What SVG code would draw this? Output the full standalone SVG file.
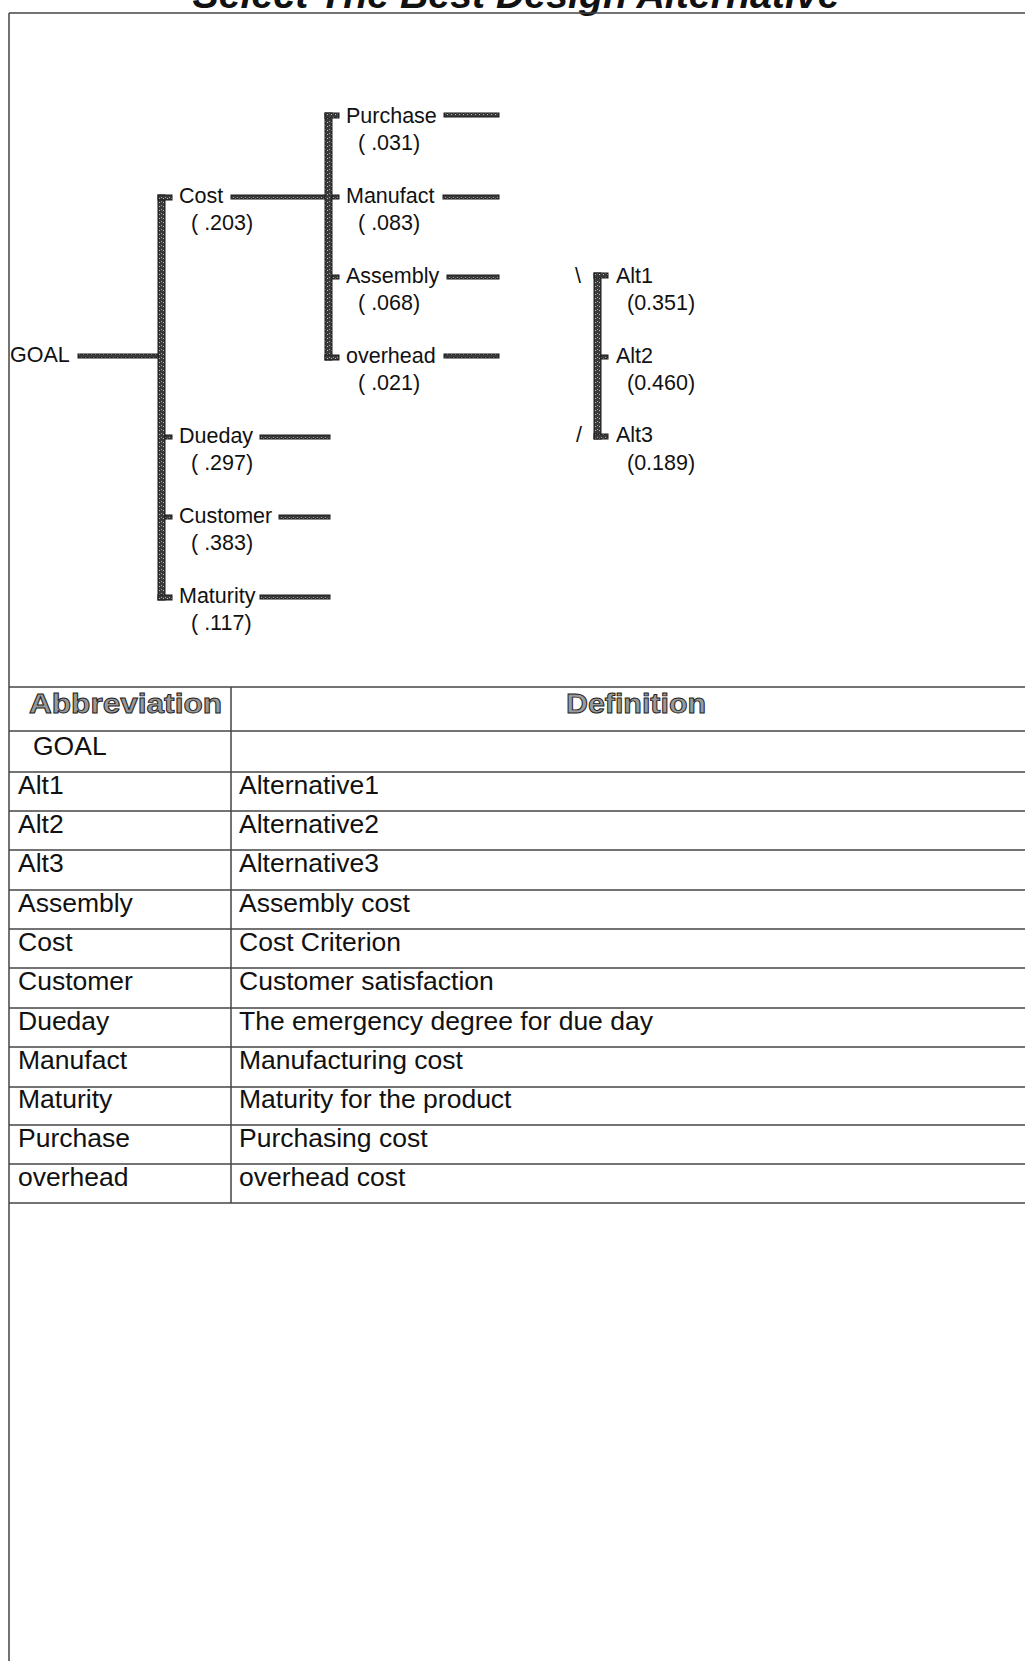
<svg xmlns="http://www.w3.org/2000/svg" width="1025" height="1661" viewBox="0 0 1025 1661">
<style>
text{font-family:"Liberation Sans",Arial,sans-serif;fill:#111}
.t{font-size:21.5px}
.c{font-size:26.5px}
.h{font-size:27px;font-weight:bold;fill:#9a9a9a;stroke:#222;stroke-width:0.9px}
.bar{fill:url(#tex);stroke:#1a1a1a;stroke-width:1}
.grid{stroke:#444;stroke-width:1.5;fill:none}
</style>
<defs>
<pattern id="tex" width="4" height="4" patternUnits="userSpaceOnUse">
<rect width="4" height="4" fill="#3a3a3a"/>
<rect x="1" y="1" width="1" height="1" fill="#a0a0a0"/>
<rect x="3" y="2" width="1" height="1" fill="#bdbdbd"/>
</pattern>
</defs>
<rect width="1025" height="1661" fill="#fff"/>
<text x="516" y="8" text-anchor="middle" font-size="39" font-weight="bold" font-style="italic" textLength="647" lengthAdjust="spacingAndGlyphs">Select The Best Design Alternative</text>
<g id="frame" class="grid">
<line x1="9" y1="13" x2="1025" y2="13"/>
<line x1="9" y1="13" x2="9" y2="1661"/>
</g>
<g id="connectors">
<rect class="bar" x="78" y="354" width="82" height="4"/>
<rect class="bar" x="158" y="195" width="7" height="405"/>
<rect class="bar" x="158" y="195" width="14" height="5"/>
<rect class="bar" x="165" y="435" width="7" height="4"/>
<rect class="bar" x="165" y="515" width="7" height="4"/>
<rect class="bar" x="158" y="595" width="14" height="5"/>
<rect class="bar" x="231" y="195" width="96" height="4"/>
<rect class="bar" x="325" y="113" width="7" height="247"/>
<rect class="bar" x="325" y="113" width="14" height="5"/>
<rect class="bar" x="332" y="195" width="7" height="4"/>
<rect class="bar" x="332" y="275" width="7" height="4"/>
<rect class="bar" x="325" y="355" width="14" height="5"/>
<rect class="bar" x="444" y="113" width="55" height="4"/>
<rect class="bar" x="443" y="195" width="56" height="4"/>
<rect class="bar" x="447" y="275" width="52" height="4"/>
<rect class="bar" x="444" y="354" width="55" height="4"/>
<rect class="bar" x="260" y="435" width="70" height="4"/>
<rect class="bar" x="279" y="515" width="51" height="4"/>
<rect class="bar" x="260" y="595" width="70" height="4"/>
<rect class="bar" x="594" y="273" width="7" height="166"/>
<rect class="bar" x="594" y="273" width="14" height="5"/>
<rect class="bar" x="601" y="355" width="7" height="4"/>
<rect class="bar" x="594" y="434" width="14" height="5"/>
</g>
<g id="n-goal"><text class="t" x="10" y="362">GOAL</text></g>
<g id="n-cost"><text class="t" x="179" y="203">Cost</text><text class="t" x="191" y="230">( .203)</text></g>
<g id="n-dueday"><text class="t" x="179" y="443">Dueday</text><text class="t" x="191" y="470">( .297)</text></g>
<g id="n-customer"><text class="t" x="179" y="523">Customer</text><text class="t" x="191" y="550">( .383)</text></g>
<g id="n-maturity"><text class="t" x="179" y="603">Maturity</text><text class="t" x="191" y="630">( .117)</text></g>
<g id="n-purchase"><text class="t" x="346" y="123">Purchase</text><text class="t" x="358" y="150">( .031)</text></g>
<g id="n-manufact"><text class="t" x="346" y="203">Manufact</text><text class="t" x="358" y="230">( .083)</text></g>
<g id="n-assembly"><text class="t" x="346" y="283">Assembly</text><text class="t" x="358" y="310">( .068)</text></g>
<g id="n-overhead"><text class="t" x="346" y="363">overhead</text><text class="t" x="358" y="390">( .021)</text></g>
<g id="alts">
<text class="t" x="575" y="283">\</text>
<text class="t" x="576" y="442">/</text>
</g>
<g id="n-alt1"><text class="t" x="616" y="283">Alt1</text><text class="t" x="627" y="310">(0.351)</text></g>
<g id="n-alt2"><text class="t" x="616" y="363">Alt2</text><text class="t" x="627" y="390">(0.460)</text></g>
<g id="n-alt3"><text class="t" x="616" y="442">Alt3</text><text class="t" x="627" y="470">(0.189)</text></g>
<g id="table">
<g class="grid">
<line x1="9" y1="687" x2="1025" y2="687"/>
<line x1="9" y1="731" x2="1025" y2="731"/>
<line x1="9" y1="772" x2="1025" y2="772"/>
<line x1="9" y1="811" x2="1025" y2="811"/>
<line x1="9" y1="850" x2="1025" y2="850"/>
<line x1="9" y1="890" x2="1025" y2="890"/>
<line x1="9" y1="929" x2="1025" y2="929"/>
<line x1="9" y1="968" x2="1025" y2="968"/>
<line x1="9" y1="1008" x2="1025" y2="1008"/>
<line x1="9" y1="1047" x2="1025" y2="1047"/>
<line x1="9" y1="1087" x2="1025" y2="1087"/>
<line x1="9" y1="1125" x2="1025" y2="1125"/>
<line x1="9" y1="1164" x2="1025" y2="1164"/>
<line x1="9" y1="1203" x2="1025" y2="1203"/>
<line x1="231" y1="687" x2="231" y2="1203"/>
</g>
<text class="h" x="29" y="713" textLength="193" lengthAdjust="spacingAndGlyphs">Abbreviation</text>
<text class="h" x="636" y="713" text-anchor="middle" textLength="140" lengthAdjust="spacingAndGlyphs">Definition</text>
<text class="c" x="33" y="755">GOAL</text>
<text class="c" x="18" y="794">Alt1</text><text class="c" x="239" y="794">Alternative1</text>
<text class="c" x="18" y="833">Alt2</text><text class="c" x="239" y="833">Alternative2</text>
<text class="c" x="18" y="872">Alt3</text><text class="c" x="239" y="872">Alternative3</text>
<text class="c" x="18" y="912">Assembly</text><text class="c" x="239" y="912">Assembly cost</text>
<text class="c" x="18" y="951">Cost</text><text class="c" x="239" y="951">Cost Criterion</text>
<text class="c" x="18" y="990">Customer</text><text class="c" x="239" y="990">Customer satisfaction</text>
<text class="c" x="18" y="1030">Dueday</text><text class="c" x="239" y="1030">The emergency degree for due day</text>
<text class="c" x="18" y="1069">Manufact</text><text class="c" x="239" y="1069">Manufacturing cost</text>
<text class="c" x="18" y="1108">Maturity</text><text class="c" x="239" y="1108">Maturity for the product</text>
<text class="c" x="18" y="1147">Purchase</text><text class="c" x="239" y="1147">Purchasing cost</text>
<text class="c" x="18" y="1186">overhead</text><text class="c" x="239" y="1186">overhead cost</text>
</g>
</svg>
